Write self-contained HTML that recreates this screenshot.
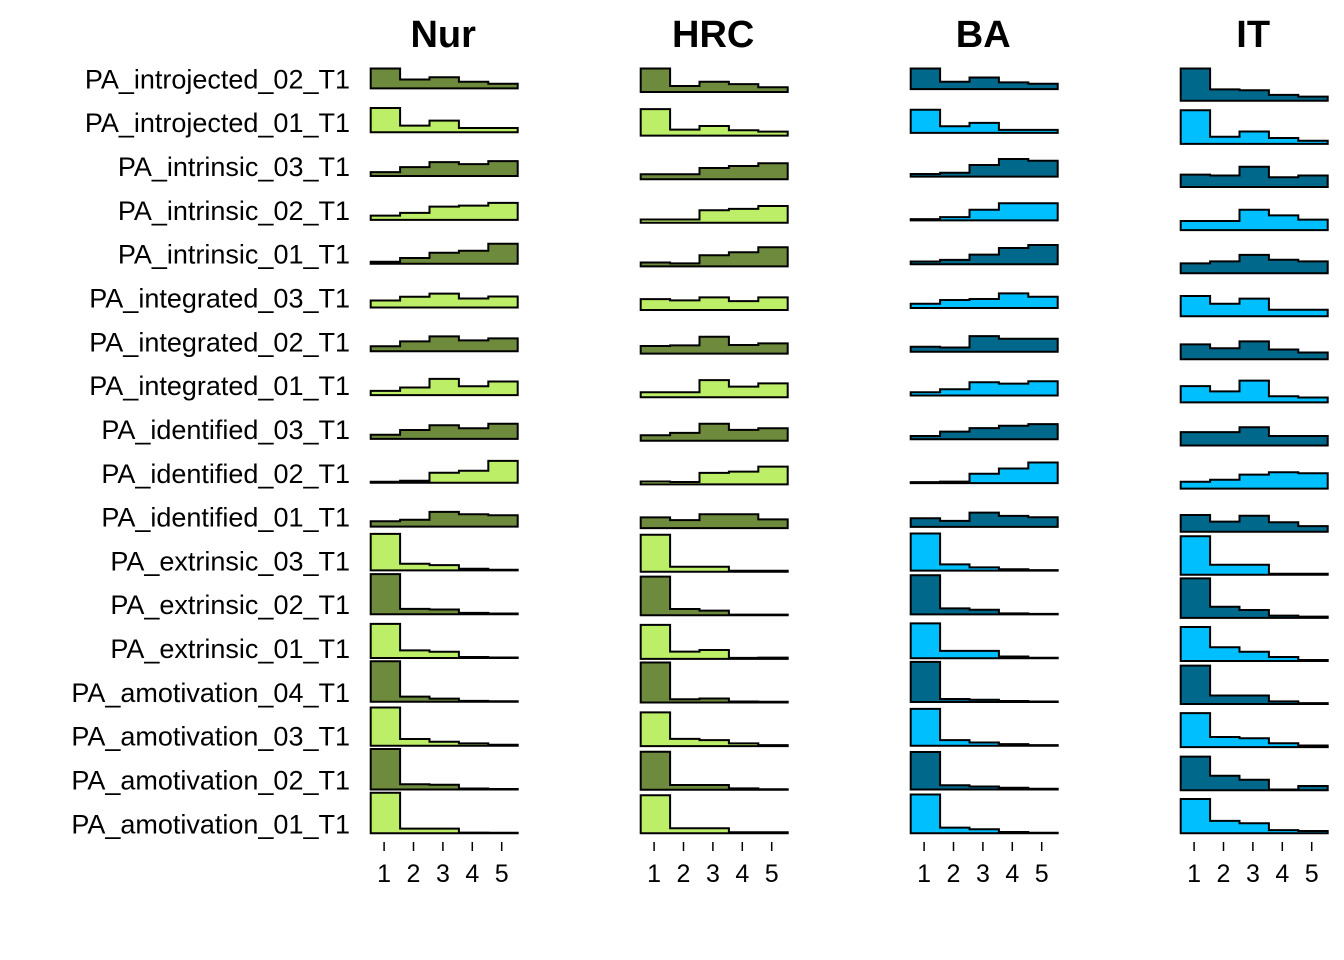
<!DOCTYPE html>
<html><head><meta charset="utf-8">
<style>
html,body{margin:0;padding:0;background:#fff;}
svg{display:block;font-family:"Liberation Sans",Arial,sans-serif;}
</style></head>
<body>
<svg id="chart" width="1344" height="960" viewBox="0 0 1344 960" xmlns="http://www.w3.org/2000/svg"></svg>
<script>
const rowLabels = ["PA_introjected_02_T1","PA_introjected_01_T1","PA_intrinsic_03_T1","PA_intrinsic_02_T1","PA_intrinsic_01_T1","PA_integrated_03_T1","PA_integrated_02_T1","PA_integrated_01_T1","PA_identified_03_T1","PA_identified_02_T1","PA_identified_01_T1","PA_extrinsic_03_T1","PA_extrinsic_02_T1","PA_extrinsic_01_T1","PA_amotivation_04_T1","PA_amotivation_03_T1","PA_amotivation_02_T1","PA_amotivation_01_T1"];
const panelTitles = ["Nur","HRC","BA","IT"];
const tickLabels = ["1","2","3","4","5"];
const nurValues = [
[20,9,11.3,6.7,4.7],[24.3,6.7,11.7,4.3,4.3],[4,9,14,12,15],[4.3,7,13.3,14.3,17],[2,5.7,11,13,20],
[7,10.7,14,9,11],[5,10,15,11,13],[4.3,7.7,16.3,9,13.7],[4.3,9,13.7,10.7,15.3],[1,2,10,12,22],
[5.3,6.9,14.7,12.3,11.3],[36.7,6.7,5.3,1.7,0.7],[40.3,5.3,4.7,1.3,0.7],[34.3,7.7,6.3,1,0.5],
[40.7,5.3,3.3,1,0.7],[38.3,6.7,4,2.3,1],[40.7,5.3,4.7,1,0.5],[40.7,4.7,4.7,0.7,0.5]];
const hrcValues = [
[23.7,6,10.3,8,4.7],[26.7,6,9.7,5.3,4],[5,5,11.3,13.3,16],[3.3,3.3,12.7,14,17],[4,3,11.3,14.3,19.3],
[11,9.7,12.7,9,12.7],[7.7,8.3,17,8.7,10.3],[5,5,17.3,10.7,14],[5.7,8,17.3,11,12.7],[3,2.5,11.7,13,18],
[10.7,8,14,14,8.7],[37.3,5,5,1,1],[39,6.3,4.7,0.7,0.7],[34.3,7.3,9,1,1.3],
[40.3,3.3,4,1,0.7],[34,7.3,6,2.7,1],[38.3,4.7,4.7,1.3,0.5],[38.3,5,5,1,1]];
const baValues = [
[20.7,7.3,11.7,6.7,5.3],[23.3,6.7,10,3,3],[2.7,4,11.7,17.7,16],[1.3,3.3,10.7,17.3,17.3],[2.7,4.3,9.7,16.3,19.3],
[4.3,8,9,14.7,11.3],[5,4.3,15.7,13,13],[3.3,6.3,13.3,12,14.3],[3.3,7.7,11.3,13.7,15.3],[1,1.5,9.3,14.7,20.7],
[8.7,6,14.3,11,9.7],[37.3,6.3,3.3,1.3,0.5],[39.3,6,4.7,1,0.5],[35,7.3,7.3,1.7,0.5],
[40.3,3,2.3,1,0.5],[37,5.7,3.3,1.7,0.7],[37.7,4.3,3,1.7,0.7],[39,5.7,4,1.3,0.5]];
const itValues = [
[33,11.7,10.7,6,4.3],[34.3,7.3,12.7,6,3.3],[12.7,11.7,20.7,10,11.7],[9.3,9.3,20.7,15,10.7],[10,12,18.7,13.7,12],
[20.7,12.7,18,6.7,6.7],[15.3,11.3,18.3,10,7],[16.7,11.3,22.3,6.3,5],[13.7,13.7,18.7,9.7,9.7],[7,9,14.3,16.7,15.7],
[17,10.3,16.3,9.7,5.7],[39.3,10.3,10.3,1,1],[40.3,11.3,8,2.3,1.3],[34.7,14,9.3,4,1],
[39.3,8.7,8.7,2.7,1],[34.7,10.3,9,4,1.7],[34.3,14.7,10.7,0.7,4.3],[35,12.7,10.3,3.3,2.3]];

const NS = "http://www.w3.org/2000/svg";
const svg = document.getElementById("chart");
const panels = [
  {vals:nurValues, left:370.7, dark:"#6E8B3D", light:"#BCEE68"},
  {vals:hrcValues, left:640.7, dark:"#6E8B3D", light:"#BCEE68"},
  {vals:baValues, left:910.7, dark:"#00688B", light:"#00BFFF"},
  {vals:itValues, left:1180.7, dark:"#00688B", light:"#00BFFF"}
];
const panelW = 147, bottomY = 833.3, panelSpan = 764.8, unit = 44;
const nRows = rowLabels.length;

function mk(tag, attrs, parent){
  const e = document.createElementNS(NS, tag);
  for (const k in attrs) e.setAttribute(k, attrs[k]);
  (parent||svg).appendChild(e);
  return e;
}

const p0 = panels[0];
const s0 = panelSpan / ((nRows-1) + Math.max(...p0.vals[0])/unit);
rowLabels.forEach((lab, r) => {
  const t = mk("text", {x:350, y:(bottomY - (nRows-1-r)*s0).toFixed(1), "text-anchor":"end", "font-size":"27", fill:"#000"});
  
  
  t.textContent = lab;
});

panels.forEach((p, pi) => {
  const g = mk("g", {});
  
  
  const S = panelSpan / ((nRows-1) + Math.max(...p.vals[0])/unit);
  const binW = panelW / 5;
  const xOf = v => p.left + (v - 0.5) * binW;
  const yBase = r => bottomY - (nRows-1-r) * S;
  const hOf = v => v / unit * S;

  const title = mk("text", {x:(p.left + panelW/2 - 1).toFixed(1), y:47, "text-anchor":"middle", "font-size":"38", "font-weight":"bold", fill:"#000"}, g);
  
  
  title.textContent = panelTitles[pi];

  p.vals.forEach((row, r) => {
    const b = yBase(r);
    let d = "M" + xOf(0.5).toFixed(1) + "," + b.toFixed(1);
    row.forEach((v, i) => {
      const y = (b - hOf(v)).toFixed(1);
      d += " L" + xOf(i + 0.5).toFixed(1) + "," + y + " L" + xOf(i + 1.5).toFixed(1) + "," + y;
    });
    d += " L" + xOf(5.5).toFixed(1) + "," + b.toFixed(1) + " Z";
    const path = mk("path", {d:d, fill:(r % 2 === 0 ? p.dark : p.light), stroke:"#000", "stroke-width":"2", "stroke-linejoin":"miter"}, g);
    
    
  });

  tickLabels.forEach((tl, i) => {
    const x = xOf(i + 1) - 1.3;
    const tk = mk("line", {x1:x.toFixed(1), x2:x.toFixed(1), y1:842, y2:851, stroke:"#000", "stroke-width":"1.5"}, g);
    
    
    const tt = mk("text", {x:x.toFixed(1), y:882, "text-anchor":"middle", "font-size":"25", fill:"#000"}, g);
    
    
    tt.textContent = tl;
  });
});
</script>
</body></html>
